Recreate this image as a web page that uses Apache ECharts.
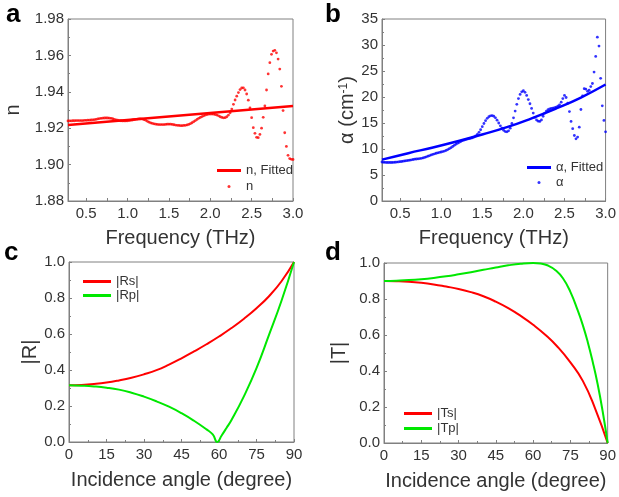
<!DOCTYPE html>
<html>
<head>
<meta charset="utf-8">
<script src="https://cdn.jsdelivr.net/npm/echarts@6/dist/echarts.min.js"></script>
<style>
html, body { margin: 0; padding: 0; background: #fff; }
#main { width: 619px; height: 497px; }
</style>
</head>
<body>
<div id="main"></div>
<script>
// frequency grid shared by panels a and b (THz)
var freq = [
    0.28, 0.30, 0.32, 0.34, 0.36, 0.38, 0.40, 0.42, 0.44, 0.46,
    0.48, 0.50, 0.52, 0.54, 0.56, 0.58, 0.60, 0.62, 0.64, 0.66,
    0.68, 0.70, 0.72, 0.74, 0.76, 0.78, 0.80, 0.82, 0.84, 0.86,
    0.88, 0.90, 0.92, 0.94, 0.96, 0.98, 1.00, 1.02, 1.04, 1.06,
    1.08, 1.10, 1.12, 1.14, 1.16, 1.18, 1.20, 1.22, 1.24, 1.26,
    1.28, 1.30, 1.32, 1.34, 1.36, 1.38, 1.40, 1.42, 1.44, 1.46,
    1.48, 1.50, 1.52, 1.54, 1.56, 1.58, 1.60, 1.62, 1.64, 1.66,
    1.68, 1.70, 1.72, 1.74, 1.76, 1.78, 1.80, 1.82, 1.84, 1.86,
    1.88, 1.90, 1.92, 1.94, 1.96, 1.98, 2.00, 2.02, 2.04, 2.06,
    2.08, 2.10, 2.12, 2.14, 2.16, 2.18, 2.20, 2.22, 2.24, 2.26,
    2.28, 2.30, 2.32, 2.34, 2.36, 2.38, 2.40, 2.42, 2.44, 2.46,
    2.48, 2.50, 2.52, 2.54, 2.56, 2.58, 2.60, 2.62, 2.64, 2.66,
    2.68, 2.70, 2.72, 2.74, 2.76, 2.78, 2.80, 2.82, 2.84, 2.86,
    2.88, 2.90, 2.92, 2.94, 2.96, 2.98, 3.00
];

// panel a: refractive index n
var nMeasured = [
    1.9240, 1.9240, 1.9240, 1.9241, 1.9241, 1.9242, 1.9242, 1.9242, 1.9242, 1.9242,
    1.9243, 1.9243, 1.9244, 1.9244, 1.9245, 1.9246, 1.9247, 1.9249, 1.9251, 1.9253,
    1.9254, 1.9255, 1.9256, 1.9256, 1.9256, 1.9255, 1.9254, 1.9252, 1.9249, 1.9246,
    1.9244, 1.9242, 1.9241, 1.9240, 1.9240, 1.9240, 1.9241, 1.9242, 1.9243, 1.9245,
    1.9247, 1.9249, 1.9250, 1.9251, 1.9251, 1.9250, 1.9247, 1.9243, 1.9238, 1.9233,
    1.9229, 1.9226, 1.9224, 1.9222, 1.9221, 1.9220, 1.9220, 1.9220, 1.9220, 1.9221,
    1.9222, 1.9222, 1.9222, 1.9221, 1.9219, 1.9217, 1.9216, 1.9215, 1.9214, 1.9214,
    1.9215, 1.9216, 1.9218, 1.9221, 1.9225, 1.9230, 1.9236, 1.9242, 1.9248, 1.9254,
    1.9259, 1.9264, 1.9268, 1.9272, 1.9275, 1.9277, 1.9278, 1.9278, 1.9277, 1.9275,
    1.9272, 1.9268, 1.9263, 1.9259, 1.9257, 1.9258, 1.9263, 1.9272, 1.9285, 1.9305,
    1.9331, 1.9355, 1.9376, 1.9396, 1.9412, 1.9421, 1.9422, 1.9410, 1.9388, 1.9354,
    1.9311, 1.9258, 1.9203, 1.9172, 1.9150, 1.9148, 1.9166, 1.9200, 1.9260, 1.9322,
    1.9410, 1.9498, 1.9560, 1.9606, 1.9624, 1.9628, 1.9614, 1.9580, 1.9525, 1.9430,
    1.9297, 1.9175, 1.9100, 1.9051, 1.9033, 1.9029, 1.9028
];
var nFitFreq = [0.28, 3.00];
var nFitted = [1.9218, 1.9322];

// panel b: absorption coefficient (cm-1)
var alphaMeasured = [
    7.50, 7.45, 7.42, 7.40, 7.40, 7.40, 7.40, 7.42, 7.45, 7.48,
    7.52, 7.56, 7.60, 7.65, 7.70, 7.75, 7.80, 7.86, 7.92, 7.98,
    8.04, 8.08, 8.12, 8.16, 8.20, 8.28, 8.38, 8.50, 8.62, 8.74,
    8.86, 8.98, 9.08, 9.18, 9.26, 9.34, 9.42, 9.50, 9.60, 9.72,
    9.88, 10.06, 10.26, 10.48, 10.70, 10.92, 11.12, 11.30, 11.46, 11.60,
    11.72, 11.82, 11.90, 11.98, 12.06, 12.16, 12.30, 12.50, 12.80, 13.20,
    13.70, 14.30, 14.90, 15.45, 15.90, 16.20, 16.38, 16.42, 16.30, 16.00,
    15.55, 15.00, 14.45, 14.00, 13.60, 13.35, 13.30, 13.50, 14.00, 14.90,
    16.00, 17.30, 18.60, 19.70, 20.50, 21.00, 21.20, 20.90, 20.30, 19.50,
    18.70, 17.80, 16.90, 16.10, 15.60, 15.35, 15.30, 15.60, 16.30, 16.90,
    17.30, 17.55, 17.70, 17.80, 17.85, 17.95, 18.05, 18.25, 18.50, 19.00,
    19.70, 20.30, 19.90, 18.80, 17.20, 15.30, 13.90, 12.60, 11.95, 12.30,
    14.20, 17.60, 20.20, 21.60, 21.50, 21.10, 21.30, 22.00, 22.60, 24.80,
    27.80, 31.50, 29.80, 23.60, 18.30, 15.50, 13.30
];
var alphaFitFreq = [0.28, 0.60, 0.90, 1.20, 1.50, 1.80, 2.10, 2.40, 2.70, 3.00];
var alphaFitted = [7.95, 9.20, 10.30, 11.50, 12.80, 14.20, 15.90, 17.80, 19.90, 22.40];

// panel c: reflection
var angleRs = [0, 5, 10, 15, 20, 25, 30, 35, 40, 45, 50, 55, 60, 65, 70, 75, 80, 85, 90];
var Rs = [0.315, 0.317, 0.322, 0.330, 0.342, 0.357, 0.376, 0.399, 0.430, 0.465, 0.503, 0.543, 0.586, 0.633, 0.685, 0.743, 0.810, 0.893, 1.000];
var angleRp = [0, 5, 10, 15, 20, 25, 30, 35, 40, 45, 50, 55, 57.5, 59.3, 61, 63, 65, 70, 75, 80, 85, 90];
var Rp = [0.315, 0.313, 0.309, 0.302, 0.291, 0.274, 0.252, 0.226, 0.196, 0.160, 0.118, 0.070, 0.042, 0.000, 0.035, 0.078, 0.122, 0.255, 0.410, 0.595, 0.785, 1.000];

// panel d: transmission
var angleTs = [0, 5, 10, 15, 20, 25, 30, 35, 40, 45, 50, 55, 60, 65, 70, 75, 80, 85, 90];
var Ts = [0.900, 0.899, 0.896, 0.890, 0.881, 0.869, 0.856, 0.838, 0.815, 0.785, 0.749, 0.706, 0.657, 0.600, 0.532, 0.448, 0.345, 0.190, 0.000];
var angleTp = [0, 5, 10, 15, 20, 25, 30, 35, 40, 45, 50, 55, 60, 63, 66, 69, 72, 75, 78, 80, 82, 84, 86, 88, 90];
var Tp = [0.900, 0.902, 0.905, 0.910, 0.917, 0.926, 0.937, 0.949, 0.962, 0.975, 0.987, 0.996, 1.000, 0.997, 0.986, 0.960, 0.915, 0.840, 0.735, 0.655, 0.560, 0.450, 0.325, 0.175, 0.000];

// tick positions
var freqLabels = [0.5, 1.0, 1.5, 2.0, 2.5, 3.0];
var freqTicks = [0.5, 0.75, 1.0, 1.25, 1.5, 1.75, 2.0, 2.25, 2.5, 2.75, 3.0];

var FONT = '"Liberation Sans", Arial, sans-serif';
var AXIS_COLOR = '#808080';
var TEXT_COLOR = '#333';
var RED = '#ff0000', BLUE = '#0000ff', GREEN = '#00e800';

function pairs(xs, ys) {
    return xs.map(function (x, i) { return [x, ys[i]]; });
}

function freqAxis(gridIndex) {
    return {
        type: 'value', gridIndex: gridIndex, min: 0.28, max: 3.0,
        name: 'Frequency (THz)', nameLocation: 'middle', nameGap: 27,
        nameTextStyle: { fontSize: 20, color: TEXT_COLOR, fontFamily: FONT },
        axisLine: { show: true, onZero: false, lineStyle: { color: AXIS_COLOR } },
        axisTick: { show: true, inside: true, length: 3, customValues: freqTicks, lineStyle: { color: AXIS_COLOR } },
        axisLabel: { customValues: freqLabels, fontSize: 15, color: TEXT_COLOR, fontFamily: FONT, margin: 5,
            formatter: function (v) { return v.toFixed(1); } },
        splitLine: { show: false }
    };
}

function angleAxis(gridIndex) {
    return {
        type: 'value', gridIndex: gridIndex, min: 0, max: 90, interval: 15,
        name: 'Incidence angle (degree)', nameLocation: 'middle', nameGap: 28,
        nameTextStyle: { fontSize: 20, color: TEXT_COLOR, fontFamily: FONT },
        axisLine: { show: true, onZero: false, lineStyle: { color: AXIS_COLOR } },
        axisTick: { show: true, inside: true, length: 3, lineStyle: { color: AXIS_COLOR } },
        minorTick: { show: true, splitNumber: 2, length: 2, lineStyle: { color: AXIS_COLOR } },
        axisLabel: { fontSize: 15, color: TEXT_COLOR, fontFamily: FONT, margin: 5 },
        splitLine: { show: false }
    };
}

function yAxis(gridIndex, cfg) {
    return {
        type: 'value', gridIndex: gridIndex, min: cfg.min, max: cfg.max, interval: cfg.interval,
        name: cfg.name, nameLocation: 'middle', nameGap: cfg.gap,
        nameTextStyle: { fontSize: 20, color: TEXT_COLOR, fontFamily: FONT, rich: cfg.rich },
        axisLine: { show: true, onZero: false, lineStyle: { color: AXIS_COLOR } },
        axisTick: { show: true, inside: true, length: 3, lineStyle: { color: AXIS_COLOR } },
        minorTick: { show: true, splitNumber: 2, length: 2, lineStyle: { color: AXIS_COLOR } },
        axisLabel: { fontSize: 15, color: TEXT_COLOR, fontFamily: FONT, margin: 4, formatter: cfg.fmt },
        splitLine: { show: false }
    };
}

function legend(left, top, width, gap, items) {
    return {
        orient: 'vertical', left: left, top: top, padding: 0,
        itemWidth: width, itemHeight: 3, itemGap: gap, selectedMode: false,
        textStyle: { fontSize: 13, color: TEXT_COLOR, fontFamily: FONT },
        data: items
    };
}

function letter(text, left, top) {
    return { type: 'text', left: left, top: top,
        style: { text: text, font: 'bold 26px "Liberation Sans", Arial, sans-serif', fill: '#000' } };
}

var chart = echarts.init(document.getElementById('main'));

var gridStyle = { show: true, borderColor: AXIS_COLOR, borderWidth: 1, containLabel: false };
var option = {
    animation: false,
    backgroundColor: '#fff',
    grid: [
        Object.assign({ left: 68, top: 19, width: 225, height: 182 }, gridStyle),
        Object.assign({ left: 382, top: 19, width: 226, height: 182 }, gridStyle),
        Object.assign({ left: 69, top: 262, width: 225, height: 180 }, gridStyle),
        Object.assign({ left: 384, top: 263, width: 225, height: 180 }, gridStyle)
    ],
    xAxis: [freqAxis(0), freqAxis(1), angleAxis(2), angleAxis(3)],
    yAxis: [
        yAxis(0, { min: 1.88, max: 1.98, interval: 0.02, name: 'n', gap: 45,
            fmt: function (v) { return v.toFixed(2); } }),
        yAxis(1, { min: 0, max: 35, interval: 5, name: '{a|α (cm}{s|-1}{a|)}', gap: 24,
            rich: { a: { fontSize: 20, color: TEXT_COLOR, fontFamily: FONT },
                    s: { fontSize: 12, color: TEXT_COLOR, fontFamily: FONT, verticalAlign: 'top' } } }),
        yAxis(2, { min: 0, max: 1, interval: 0.2, name: '|R|', gap: 28,
            fmt: function (v) { return v.toFixed(1); } }),
        yAxis(3, { min: 0, max: 1, interval: 0.2, name: '|T|', gap: 35,
            fmt: function (v) { return v.toFixed(1); } })
    ],
    legend: [
        legend(217, 164, 24, 3, [{ name: 'n, Fitted', icon: 'rect' }, { name: 'n', icon: 'circle' }]),
        legend(527, 161, 24, 2, [{ name: 'α, Fitted', icon: 'rect' }, { name: 'α', icon: 'circle' }]),
        legend(83, 275, 28, 1, [{ name: '|Rs|', icon: 'rect' }, { name: '|Rp|', icon: 'rect' }]),
        legend(404, 407, 28, 2, [{ name: '|Ts|', icon: 'rect' }, { name: '|Tp|', icon: 'rect' }])
    ],
    graphic: [
        letter('a', 6, 2),
        letter('b', 325, 2),
        letter('c', 4, 240),
        letter('d', 325, 240)
    ],
    series: [
        { type: 'line', name: 'n, Fitted', xAxisIndex: 0, yAxisIndex: 0, color: RED,
          data: pairs(nFitFreq, nFitted), showSymbol: false, lineStyle: { width: 2.5, color: RED } },
        { type: 'scatter', name: 'n', xAxisIndex: 0, yAxisIndex: 0, color: RED,
          data: pairs(freq, nMeasured), symbolSize: 2.8, itemStyle: { color: RED } },

        { type: 'line', name: 'α, Fitted', xAxisIndex: 1, yAxisIndex: 1, color: BLUE, smooth: true,
          data: pairs(alphaFitFreq, alphaFitted), showSymbol: false, lineStyle: { width: 2.5, color: BLUE } },
        { type: 'scatter', name: 'α', xAxisIndex: 1, yAxisIndex: 1, color: BLUE,
          data: pairs(freq, alphaMeasured), symbolSize: 2.8, itemStyle: { color: BLUE } },

        { type: 'line', name: '|Rs|', xAxisIndex: 2, yAxisIndex: 2, color: RED, smooth: true,
          data: pairs(angleRs, Rs), showSymbol: false, lineStyle: { width: 2, color: RED } },
        { type: 'line', name: '|Rp|', xAxisIndex: 2, yAxisIndex: 2, color: GREEN, smooth: true,
          data: pairs(angleRp, Rp), showSymbol: false, lineStyle: { width: 2, color: GREEN } },

        { type: 'line', name: '|Ts|', xAxisIndex: 3, yAxisIndex: 3, color: RED, smooth: true,
          data: pairs(angleTs, Ts), showSymbol: false, lineStyle: { width: 2, color: RED } },
        { type: 'line', name: '|Tp|', xAxisIndex: 3, yAxisIndex: 3, color: GREEN, smooth: true,
          data: pairs(angleTp, Tp), showSymbol: false, lineStyle: { width: 2, color: GREEN } }
    ]
};

chart.setOption(option);
</script>
</body>
</html>
